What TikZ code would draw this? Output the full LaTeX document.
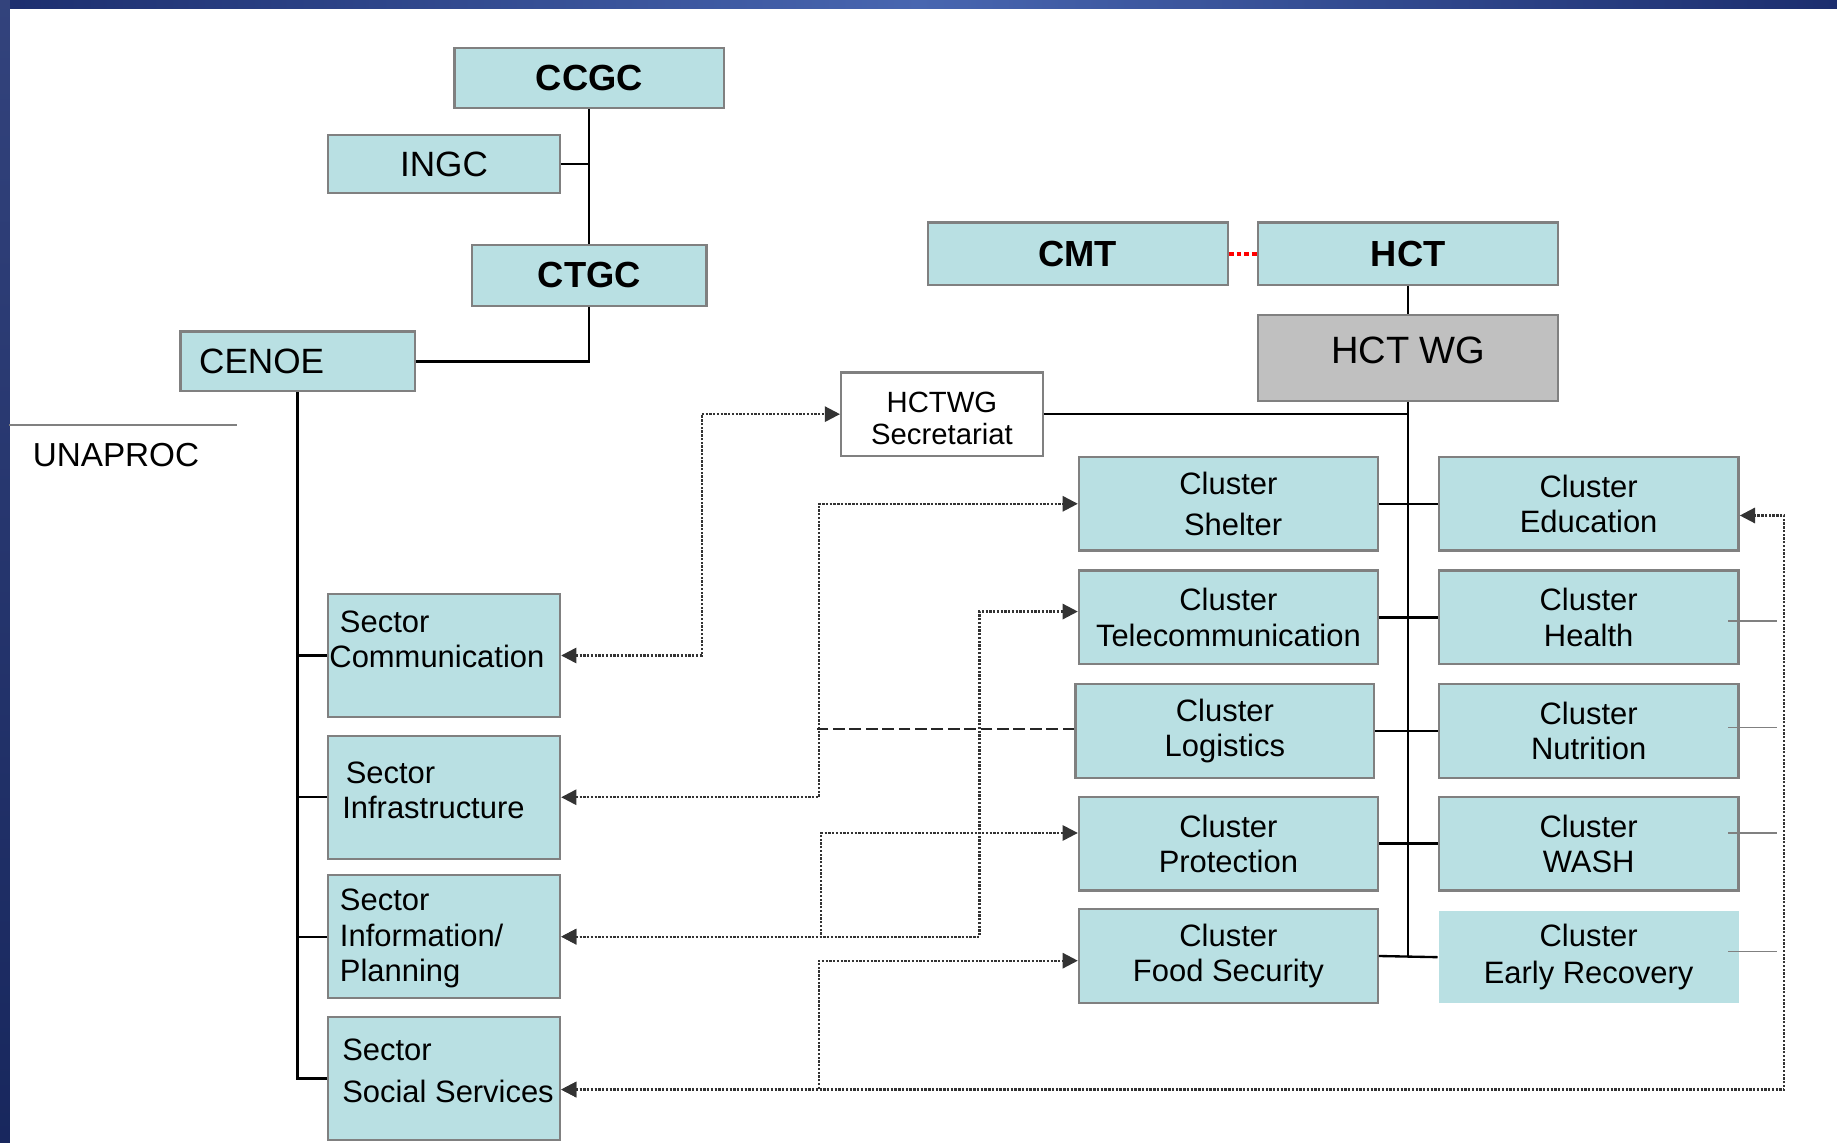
\documentclass[tikz,border=0pt]{standalone}
\usepackage{fontspec}
\setmainfont{Liberation Sans}
\usetikzlibrary{arrows.meta}

\definecolor{clusterfill}{RGB}{185,224,227}
\definecolor{boxline}{RGB}{128,128,128}
\definecolor{wggray}{RGB}{192,192,192}
\definecolor{navy}{RGB}{28,46,110}
\definecolor{bandmid}{RGB}{72,102,176}

\tikzset{
  unit/.style={draw=boxline, line width=2pt, fill=clusterfill, inner sep=0pt},
  topunit/.style={unit, font=\fontsize{30}{34}\selectfont},
  boldunit/.style={unit, font=\fontsize{31}{36}\selectfont\bfseries},
  cluster/.style={unit, minimum width=255pt, minimum height=80pt, align=center, font=\fontsize{26.4}{30}\selectfont},
  sector/.style={unit, minimum width=198pt, minimum height=105pt},
  sectortext/.style={anchor=west, align=left, inner sep=0pt, font=\fontsize{26.4}{30}\selectfont},
  tree/.style={line width=2pt},
  link/.style={draw=black!80, line width=2pt, dash pattern=on 2pt off 1.2pt,
    {Triangle[length=13pt,width=13pt]}-{Triangle[length=13pt,width=13pt]}},
}

\begin{document}
\begin{tikzpicture}[x=1pt, y=-1pt]
  \useasboundingbox (0,0) rectangle (1568,975);
  \fill[white] (0,0) rectangle (1568,975);
  % frame
  \fill[left color=navy, right color=navy, middle color=bandmid] (0,0) rectangle (1568,7);
  \fill[top color=navy!90!white, bottom color=navy!85!black] (0,0) rectangle (8.5,975);

  % government side
  \node[boldunit, minimum width=230pt, minimum height=51pt] (ccgc) at (503,66.5) {CCGC};
  \node[topunit, minimum width=198pt, minimum height=50pt] (ingc) at (379,140) {INGC};
  \node[boldunit, minimum width=200pt, minimum height=52pt] (ctgc) at (503,235) {CTGC};
  \node[topunit, minimum width=200pt, minimum height=51pt, text width=168pt, align=left] (cenoe) at (254,308.5) {CENOE};
  \draw[boxline, line width=1.5pt] (8,363) -- (202,363);
  \node[font=\fontsize{28.4}{32}\selectfont] (unaproc) at (99,388) {UNAPROC};

  \draw[tree] (ccgc) -- (ctgc);
  \draw[tree] (ingc.east) -- (ingc.east -| ccgc.south);
  \draw[tree] (ctgc.south) |- (cenoe.east);

  \node[sector] (scomm) at (379,559.5) {};
  \node[sector] (sinfra) at (379,680.5) {};
  \node[sector] (sinfo) at (379,799.5) {};
  \node[sector] (ssoc) at (379,920.5) {};
  \node[sectortext] (scommtxt) at ([xshift=2pt,yshift=13.5pt]scomm.west) {\hspace{9pt}Sector\\Communication};
  \node[sectortext] (sinfratxt) at ([xshift=13pt,yshift=6pt]sinfra.west) {\hspace{3pt}Sector\\Infrastructure};
  \node[sectortext] (sinfotxt) at ([xshift=11pt,yshift=-1.5pt]sinfo.west) {Sector\\Information/\\Planning};
  \node[sectortext] (ssoctxt) at ([xshift=13pt,yshift=6.5pt]ssoc.west) {Sector\\[6pt]Social Services};

  \draw[tree] (cenoe.south) |- (ssoc.west);
  \foreach \s in {scomm,sinfra,sinfo}
    \draw[tree] (cenoe.south |- \s.west) -- (\s.west);

  % humanitarian side
  \node[boldunit, minimum width=256pt, minimum height=53pt] (cmt) at (920,216.5) {CMT};
  \node[boldunit, minimum width=256pt, minimum height=53pt] (hct) at (1202,216.5) {HCT};
  \node[unit, fill=wggray, minimum width=256pt, minimum height=73pt] (hctwg) at (1202,305.5) {};
  \node[font=\fontsize{32.5}{36}\selectfont] (hctwgtxt) at (1202,299) {HCT WG};
  \node[unit, fill=white, minimum width=172pt, minimum height=71pt] (sec) at (804,353.5) {};
  \node[align=center, font=\fontsize{25}{27}\selectfont] (sectxt) at (804,357) {HCTWG\\Secretariat};

  \draw[red, line width=3.5pt, dash pattern=on 4pt off 2.5pt] (cmt.east) -- (hct.west);
  \draw[tree] (hct) -- (hctwg);

  \node[cluster] (shelter) at (1048.5,430) {Cluster\\[5pt]\hspace{8pt}Shelter};
  \node[cluster] (telecom) at (1048.5,527) {Cluster\\Telecommunication};
  \node[cluster] (logi) at (1045.5,624) {Cluster\\Logistics};
  \node[cluster] (prot) at (1048.5,720) {Cluster\\Protection};
  \node[cluster] (food) at (1048.5,816) {Cluster\\Food Security};
  \node[cluster, minimum width=256pt] (edu) at (1356,430) {Cluster\\Education};
  \node[cluster, minimum width=256pt] (health) at (1356,527) {Cluster\\Health};
  \node[cluster, minimum width=256pt] (nutri) at (1356,624) {Cluster\\Nutrition};
  \node[cluster, minimum width=256pt] (wash) at (1356,720) {Cluster\\WASH};
  \node[cluster, minimum width=256pt, minimum height=78pt, draw=none] (early) at (1356,817) {Cluster\\[2pt]Early Recovery};

  \draw[tree] (hctwg.south) -- (hctwg.south |- food.east);
  \draw[tree] (sec.east) -- (sec.east -| hctwg.south);
  \foreach \a/\b in {shelter/edu, telecom/health, logi/nutri, prot/wash, food/early}
    \draw[tree] (\a.east) -- (\b.west);
  \foreach \c/\dy in {health/-3, nutri/3, wash/9, early/5}
    \draw[boxline, line width=1pt] ([xshift=-10pt,yshift=\dy pt]\c.east) -- ++(42,0);

  % links between sectors and clusters
  \draw[link] (scomm.east) -- ++(120,0) |- (sec.west);
  \draw[link] (sinfra.east) -- ++(220,0) |- (shelter.west);
  \draw[black!85, line width=1.5pt, dash pattern=on 10pt off 4pt] ([yshift=2pt]logi.west) -- ++(-220,0);
  \draw[link] (sinfo.east) -- ++(357,0) |- ([yshift=5pt]telecom.west);
  \draw[link] (sinfo.east) -- ++(222,0) |- ([yshift=9pt]prot.west);
  \draw[link] ([yshift=-9.5pt]ssoc.east) -- ++(220,0) |- ([yshift=-4pt]food.west);
  \draw[link] ([yshift=-9.5pt]ssoc.east) -- ++(1044,0) |- ([yshift=-10pt]edu.east);
\end{tikzpicture}
\end{document}
